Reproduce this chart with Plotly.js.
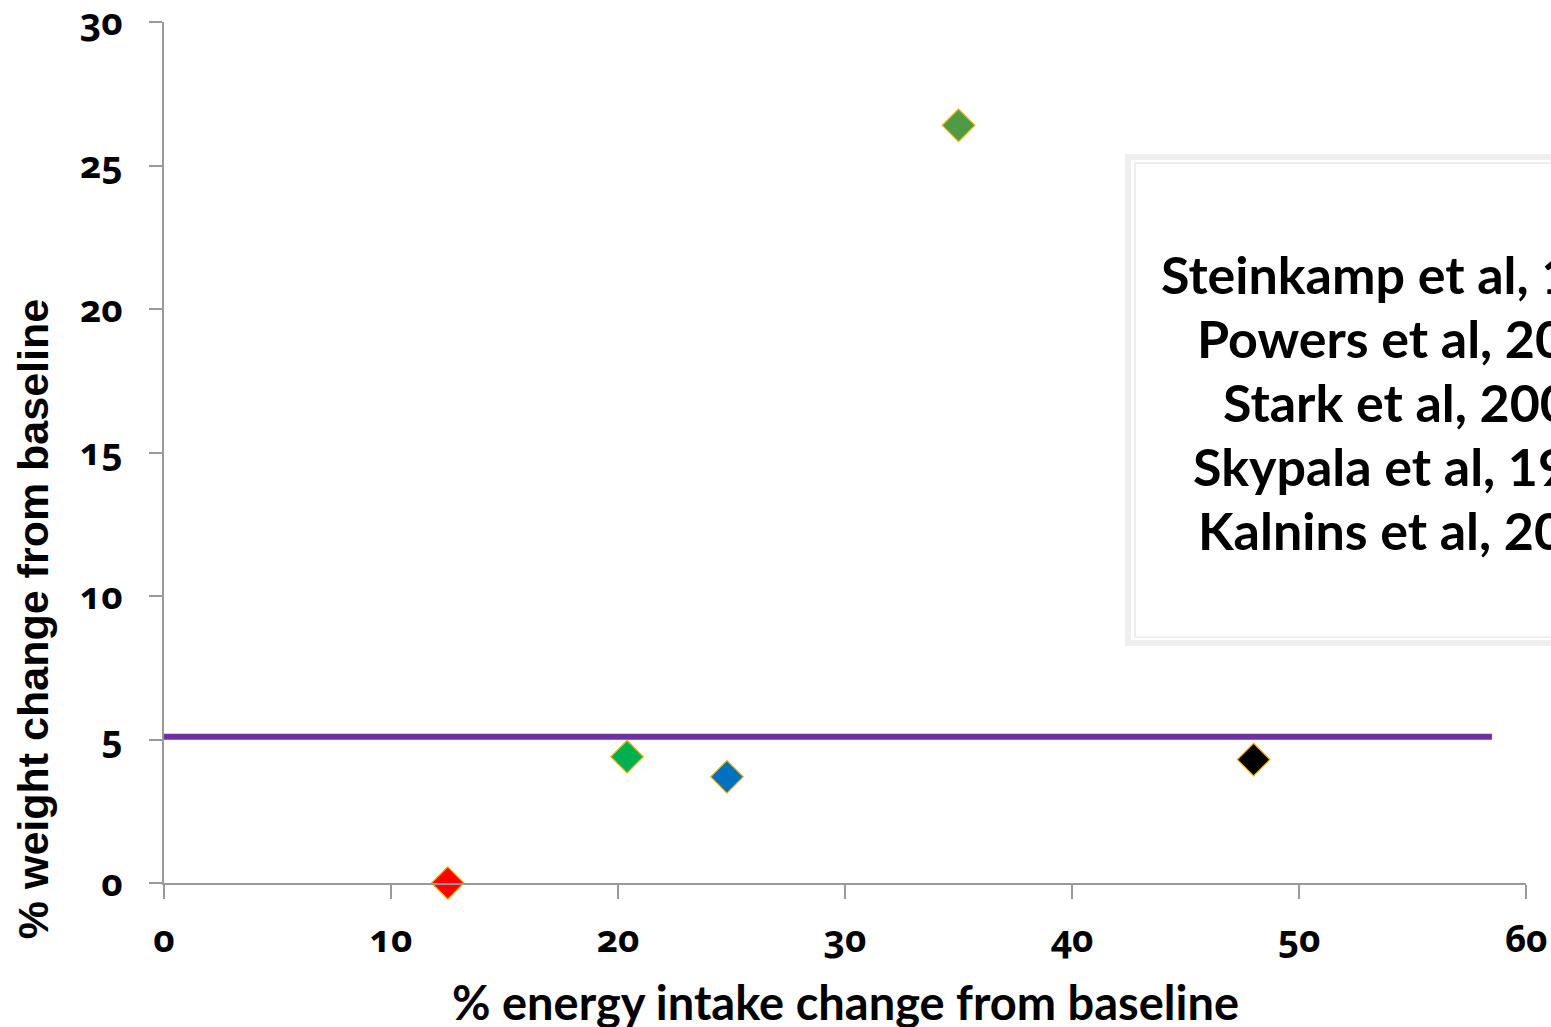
<!DOCTYPE html>
<html>
<head>
<meta charset="utf-8">
<script src="https://cdn.plot.ly/plotly-3.0.1.min.js"></script>
<style>
  html, body { margin: 0; padding: 0; background: #ffffff; }
  #chart { width: 1551px; height: 1027px; }
  .xtick text, .ytick text { font-feature-settings: "onum" 1; font-variant-numeric: oldstyle-nums; }
</style>
</head>
<body>
<div id="chart"></div>
<script>
// Studies and their measured changes
const studies = ['Steinkamp et al, 1994', 'Powers et al, 2003', 'Stark et al, 2009', 'Skypala et al, 1998', 'Kalnins et al, 2005'];
const energyChange = [12.5, 20.4, 24.8, 35.0, 48.0];   // % energy intake change from baseline
const weightChange = [0.0, 4.4, 3.7, 26.4, 4.3];       // % weight change from baseline
const markerColors = ['#ff0000', '#00b050', '#0070c0', '#4f9a45', '#000000'];

// Reference line across the chart
const refLineX = [0, 58.5];
const refLineY = [5.1, 5.1];

// Axis ticks
const xTicks = [0, 10, 20, 30, 40, 50, 60];
const yTicks = [0, 5, 10, 15, 20, 25, 30];

const xTitle = '% energy intake change from baseline';
const yTitle = '% weight change from baseline';

const axisGray = '#999999';
const tickFont = { family: '"Open Sans", Lato, sans-serif', size: 37, color: '#000000', weight: 700 };

const traces = [
  {
    x: refLineX, y: refLineY, type: 'scatter', mode: 'lines',
    line: { color: '#7030a0', width: 6 },
    hoverinfo: 'skip', showlegend: false, cliponaxis: false
  }
];
studies.forEach((name, i) => {
  traces.push({
    x: [energyChange[i]], y: [weightChange[i]], name: name,
    type: 'scatter', mode: 'markers', cliponaxis: false, showlegend: false,
    marker: { symbol: 'diamond', size: 25, color: markerColors[i], line: { color: '#f5b000', width: 1.2 } }
  });
});

// Framed key with centred study names
const keyCenterX = 0.9156, keyTopY = 0.7073, keyStep = 0.0743;
const annotations = studies.map((name, i) => ({
  text: name, xref: 'paper', yref: 'paper', x: keyCenterX, y: keyTopY - i * keyStep,
  xanchor: 'center', yanchor: 'middle', showarrow: false,
  font: { family: 'Lato, sans-serif', size: 52, color: '#000000', weight: 700 }
}));

// Axis titles
annotations.push({
  text: xTitle, xref: 'paper', yref: 'paper', x: 0.5, y: -0.138,
  xanchor: 'center', yanchor: 'middle', showarrow: false,
  font: { family: 'Lato, sans-serif', size: 47, color: '#000000', weight: 700 }
});
annotations.push({
  text: yTitle, xref: 'paper', yref: 'paper', x: -0.096, y: 0.3067, textangle: -90,
  xanchor: 'center', yanchor: 'middle', showarrow: false,
  font: { family: '"Liberation Sans", Arial, sans-serif', size: 43, color: '#000000', weight: 700 }
});

const shapes = [
  { type: 'rect', xref: 'paper', yref: 'paper', x0: 0.7078, x1: 1.3, y0: 0.2787, y1: 0.8432,
    line: { color: '#efefef', width: 6 }, fillcolor: 'rgba(255,255,255,1)', layer: 'below' },
  { type: 'rect', xref: 'paper', yref: 'paper', x0: 0.7129, x1: 1.3, y0: 0.2857, y1: 0.8362,
    line: { color: '#e2e2e2', width: 1.2 }, fillcolor: 'rgba(0,0,0,0)', layer: 'below' }
];

const layout = {
  width: 1551, height: 1027,
  margin: { l: 164, r: 25, t: 22, b: 144 },
  paper_bgcolor: '#ffffff', plot_bgcolor: 'rgba(0,0,0,0)',
  showlegend: false,
  xaxis: {
    range: [0, 60], tickvals: xTicks, ticktext: xTicks.map(String),
    showgrid: false, zeroline: false, showline: true, linecolor: axisGray, linewidth: 2,
    ticks: 'outside', ticklen: 14, tickwidth: 2, tickcolor: axisGray,
    tickfont: tickFont, ticklabelstandoff: 9, ticklabeloverflow: 'allow'
  },
  yaxis: {
    range: [0, 30], tickvals: yTicks, ticktext: yTicks.map(String),
    showgrid: false, zeroline: false, showline: true, linecolor: axisGray, linewidth: 2,
    ticks: 'outside', ticklen: 13, tickwidth: 2, tickcolor: axisGray,
    tickfont: tickFont, ticklabelstandoff: 19, ticklabeloverflow: 'allow'
  },
  shapes: shapes,
  annotations: annotations
};

Plotly.newPlot('chart', traces, layout, { staticPlot: true, displayModeBar: false });
</script>
</body>
</html>
